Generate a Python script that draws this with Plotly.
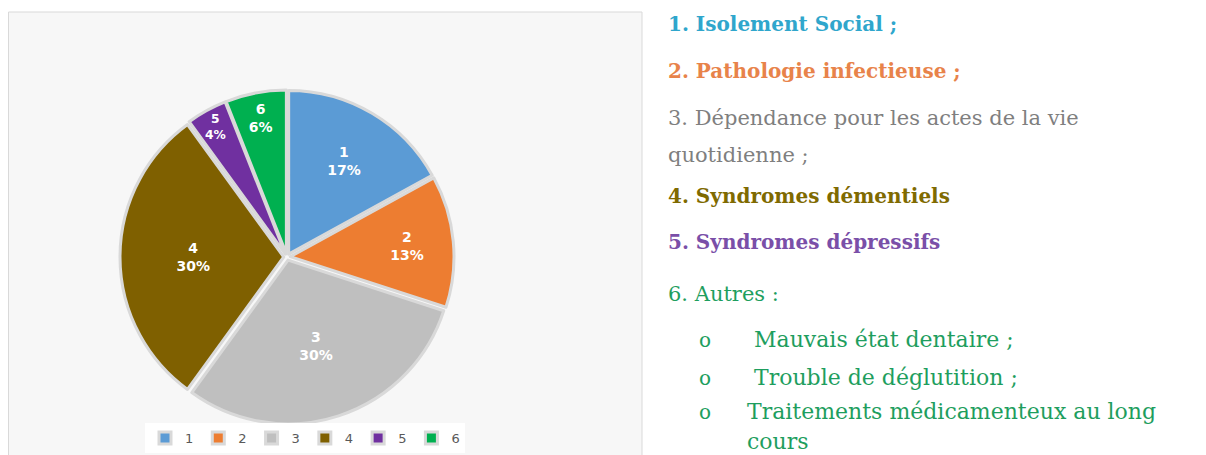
import plotly.graph_objects as go

labels = ['1', '2', '3', '4', '5', '6']
values = [17, 13, 30, 30, 4, 6]
colors = ['#5B9BD5', '#ED7D31', '#BFBFBF', '#7F6000', '#7030A0', '#00B050']

notes = [
    ('1. Isolement Social ;', '#2FA6CC', True),
    ('2. Pathologie infectieuse ;', '#E8834A', True),
    ('3. Dépendance pour les actes de la vie', '#7F7F7F', False),
    ('quotidienne ;', '#7F7F7F', False),
    ('4. Syndromes démentiels', '#7F6A00', True),
    ('5. Syndromes dépressifs', '#7A4FA8', True),
    ('6. Autres :', '#1E9E5E', False),
]
autres = ['Mauvais état dentaire ;', 'Trouble de déglutition ;',
          'Traitements médicamenteux au long', 'cours']

# la page ajoute une marge de 8 px autour du graphique
OFF = 8
W, H = 1206 - OFF, 455 - OFF


def px(x):
    return (x - OFF) / W


def py(y):
    return 1 - (y - OFF) / H


fig = go.Figure()

fig.add_trace(go.Pie(
    labels=labels, values=values,
    sort=False, direction='clockwise', rotation=0,
    marker=dict(colors=colors, line=dict(color='#D9D9D9', width=3)),
    pull=[0.02] * 6,
    texttemplate='<b>%{label}<br>%{percent:.0%}</b>',
    textposition='inside', insidetextorientation='horizontal',
    textfont=dict(family='DejaVu Sans', size=14, color='white'),
    domain=dict(x=[px(120), px(454)], y=[py(424), py(90)]),
    hoverinfo='label+percent',
))

# cadre du graphique
fig.add_shape(type='rect', xref='paper', yref='paper',
              x0=0.5 / W, x1=px(642), y0=-0.05, y1=py(12),
              fillcolor='#F7F7F7', line=dict(color='#D9D9D9', width=1),
              layer='below')

annotations = []
ys = [24, 71, 118, 155, 196, 242, 294]
for (txt, col, bold), y in zip(notes, ys):
    annotations.append(dict(xref='paper', yref='paper', x=px(666), y=py(y),
                            xanchor='left', yanchor='middle', showarrow=False,
                            text='<b>' + txt + '</b>' if bold else txt,
                            font=dict(family='DejaVu Serif', size=20 if bold else 21, color=col)))

ys2 = [339, 377, 411, 441]
for i, (txt, y) in enumerate(zip(autres, ys2)):
    if i < 3:
        annotations.append(dict(xref='paper', yref='paper', x=px(697), y=py(y + 1),
                                xanchor='left', yanchor='middle', showarrow=False,
                                text='o', font=dict(family='DejaVu Serif', size=20, color='#1E9E5E')))
    annotations.append(dict(xref='paper', yref='paper', x=px(752 if i < 2 else 745),
                            y=py(y), xanchor='left', yanchor='middle', showarrow=False,
                            text=txt, font=dict(family='DejaVu Serif', size=22, color='#1E9E5E')))

fig.update_layout(
    width=W, height=H,
    margin=dict(l=0, r=0, t=0, b=0),
    paper_bgcolor='white',
    showlegend=True,
    legend=dict(orientation='h', x=px(305), xanchor='center', y=py(438), yanchor='middle',
                bgcolor='white', font=dict(family='DejaVu Sans', size=13, color='#595959'),
                traceorder='normal'),
    annotations=annotations,
)

fig.write_html('out.html')
